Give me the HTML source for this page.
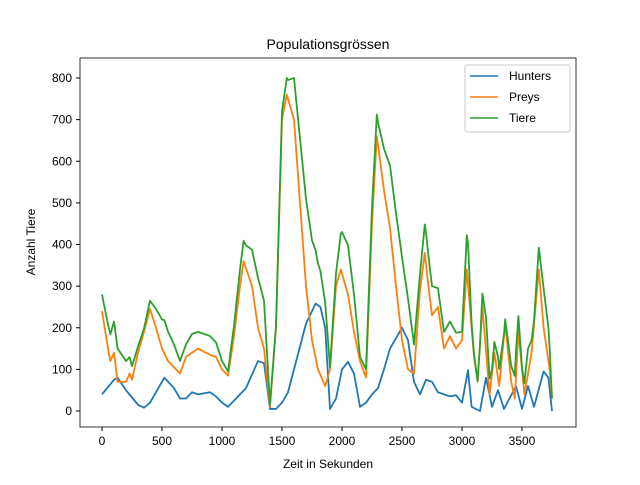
<!DOCTYPE html>
<html><head><meta charset="utf-8"><style>
body{margin:0;background:#fff}
svg{font-family:"Liberation Sans","DejaVu Sans",sans-serif}
</style></head><body>
<svg id="chart" width="640" height="480">
<rect width="640" height="480" fill="#fff"/>
<text x="328" y="49" font-size="14" text-anchor="middle">Populationsgrössen</text>
<g id="ticks"></g>
<g id="series"></g>
<rect x="80" y="58" width="496" height="369" fill="none" stroke="#000" stroke-width="0.8"/>
<text x="328" y="468" font-size="12" text-anchor="middle">Zeit in Sekunden</text>
<text transform="translate(35,242) rotate(-90)" font-size="12" text-anchor="middle">Anzahl Tiere</text>
<g>
<rect x="465" y="65" width="105" height="67" fill="#fff" stroke="#ccc" rx="2"/>
<g><line x1="470" y1="76" x2="498" y2="76" stroke="#1f77b4" stroke-width="1.5"/><text x="509" y="80" font-size="12">Hunters</text></g>
<g><line x1="470" y1="97" x2="498" y2="97" stroke="#ff7f0e" stroke-width="1.5"/><text x="509" y="101" font-size="12">Preys</text></g>
<g><line x1="470" y1="118" x2="498" y2="118" stroke="#2ca02c" stroke-width="1.5"/><text x="509" y="122" font-size="12">Tiere</text></g>
</g>
</svg>
<script>
const xTicks=[0,500,1000,1500,2000,2500,3000,3500];
const yTicks=[0,100,200,300,400,500,600,700,800];
const hunterT=[0,100,130,200,300,350,400,500,520,600,650,700,750,800,900,950,1000,1050,1100,1150,1200,1300,1350,1400,1450,1500,1550,1600,1700,1780,1820,1860,1900,1950,2000,2050,2100,2150,2200,2250,2300,2350,2400,2500,2550,2600,2650,2700,2750,2800,2900,2950,3000,3050,3080,3150,3200,3250,3300,3350,3450,3500,3550,3600,3680,3720,3750];
const hunters=[40,75,80,50,15,8,20,70,80,55,30,30,45,40,45,35,20,10,25,40,55,120,115,5,5,20,45,100,210,258,250,200,5,30,100,118,90,10,20,40,55,100,150,200,170,70,40,75,70,45,35,38,20,98,10,0,80,10,50,5,60,5,60,10,95,80,0];
const preyT=[0,50,70,100,130,200,230,250,300,350,400,450,500,550,600,650,700,750,800,900,950,1000,1050,1100,1150,1180,1250,1300,1350,1400,1450,1500,1540,1600,1650,1700,1750,1800,1860,1900,1950,1990,2050,2100,2150,2200,2250,2290,2350,2400,2450,2500,2550,2600,2650,2690,2720,2750,2800,2850,2900,2950,3000,3040,3100,3130,3170,3230,3270,3310,3360,3410,3440,3470,3520,3580,3640,3680,3730,3750];
const preys=[240,150,120,140,70,70,90,75,140,190,245,200,150,120,105,90,130,140,150,135,130,100,85,180,300,360,300,200,150,10,200,700,760,700,500,300,170,100,60,100,300,340,280,190,120,80,450,660,530,440,300,170,100,90,290,380,300,230,250,150,180,150,170,340,130,70,250,40,140,60,210,70,30,190,40,140,340,200,100,30];
const X=t=>80+22+t*0.12, Y=v=>411-v*0.41625;
const NS="http://www.w3.org/2000/svg";
const tk=document.getElementById('ticks');
xTicks.forEach(t=>{const l=document.createElementNS(NS,'line');l.setAttribute('x1',X(t));l.setAttribute('x2',X(t));l.setAttribute('y1',427);l.setAttribute('y2',431);l.setAttribute('stroke','#000');


tk.appendChild(l);const s=document.createElementNS(NS,'text');s.setAttribute('x',X(t));s.setAttribute('y',445);s.setAttribute('font-size','12');s.setAttribute('text-anchor','middle');s.textContent=t;


tk.appendChild(s);});
yTicks.forEach(v=>{const l=document.createElementNS(NS,'line');l.setAttribute('x1',76);l.setAttribute('x2',80);l.setAttribute('y1',Y(v));l.setAttribute('y2',Y(v));l.setAttribute('stroke','#000');


tk.appendChild(l);const s=document.createElementNS(NS,'text');s.setAttribute('x',72);s.setAttribute('y',Y(v)+4);s.setAttribute('font-size','12');s.setAttribute('text-anchor','end');s.textContent=v;


tk.appendChild(s);});
function interp(ts,vs,t){for(let i=1;i<ts.length;i++){if(t<=ts[i]){const f=(t-ts[i-1])/(ts[i]-ts[i-1]);return vs[i-1]+f*(vs[i]-vs[i-1]);}}return vs[vs.length-1];}
const allT=[...new Set(hunterT.concat(preyT))].sort((a,b)=>a-b);
const tiere=allT.map(t=>interp(hunterT,hunters,t)+interp(preyT,preys,t));
const sg=document.getElementById('series');
function draw(ts,vs,c,name){const p=document.createElementNS(NS,'polyline');p.setAttribute('points',ts.map((t,i)=>X(t)+','+Y(vs[i])).join(' '));p.setAttribute('fill','none');p.setAttribute('stroke',c);p.setAttribute('stroke-width','1.8');p.setAttribute('stroke-linejoin','round');


sg.appendChild(p);}
draw(hunterT,hunters,'#1f77b4','hunters-line');
draw(preyT,preys,'#ff7f0e','preys-line');
draw(allT,tiere,'#2ca02c','tiere-line');
</script>
</body></html>
